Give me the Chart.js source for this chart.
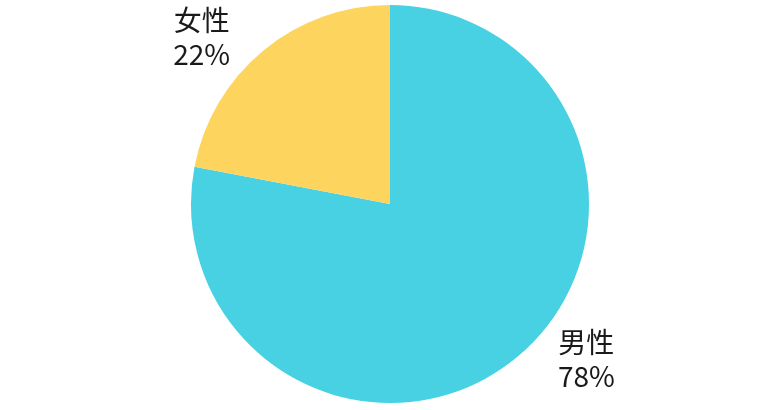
<!DOCTYPE html>
<html>
<head>
<meta charset="utf-8">
<script src="https://cdn.jsdelivr.net/npm/chart.js@4/dist/chart.umd.min.js"></script>
<style>
  html, body { margin: 0; padding: 0; background: #fff; }
  #wrap { width: 780px; height: 410px; }
</style>
</head>
<body>
<div id="wrap"><canvas id="genderChart"></canvas></div>
<script>
var labels = ["男性", "女性"];
var values = [78, 22];
var colors = ["#47D1E2", "#FDD55E"];

// text outside each slice: name, then percentage
var outsideLabels = {
    id: 'outsideLabels',
    afterDatasetsDraw: function (chart) {
        var ctx = chart.ctx;
        var meta = chart.getDatasetMeta(0);
        ctx.save();
        ctx.font = '28px "Noto Sans CJK SC", "Noto Sans", sans-serif';
        ctx.fillStyle = '#1a1a1a';
        ctx.textAlign = 'center';
        ctx.textBaseline = 'middle';
        meta.data.forEach(function (arc, i) {
            var a = (arc.startAngle + arc.endAngle) / 2 - 0.183;
            var r = arc.outerRadius * 1.26;
            var x = arc.x + Math.cos(a) * r + 4;
            var y = arc.y + Math.sin(a) * r - 6;
            ctx.fillText(labels[i], x, y - 17);
            ctx.fillText(values[i] + '%', x, y + 17);
        });
        ctx.restore();
    }
};

var ctx = document.getElementById("genderChart").getContext("2d");
var chart = new Chart(ctx, {
    type: 'pie',
    data: {
        labels: labels,
        datasets: [{
            data: values,
            backgroundColor: colors,
            hoverBackgroundColor: colors,
            borderWidth: 0
        }]
    },
    options: {
        responsive: true,
        maintainAspectRatio: false,
        animation: false,
        layout: { padding: { top: 5, bottom: 7 } },
        plugins: {
            legend: { display: false },
            tooltip: { enabled: false }
        }
    },
    plugins: [outsideLabels]
});
</script>
</body>
</html>
